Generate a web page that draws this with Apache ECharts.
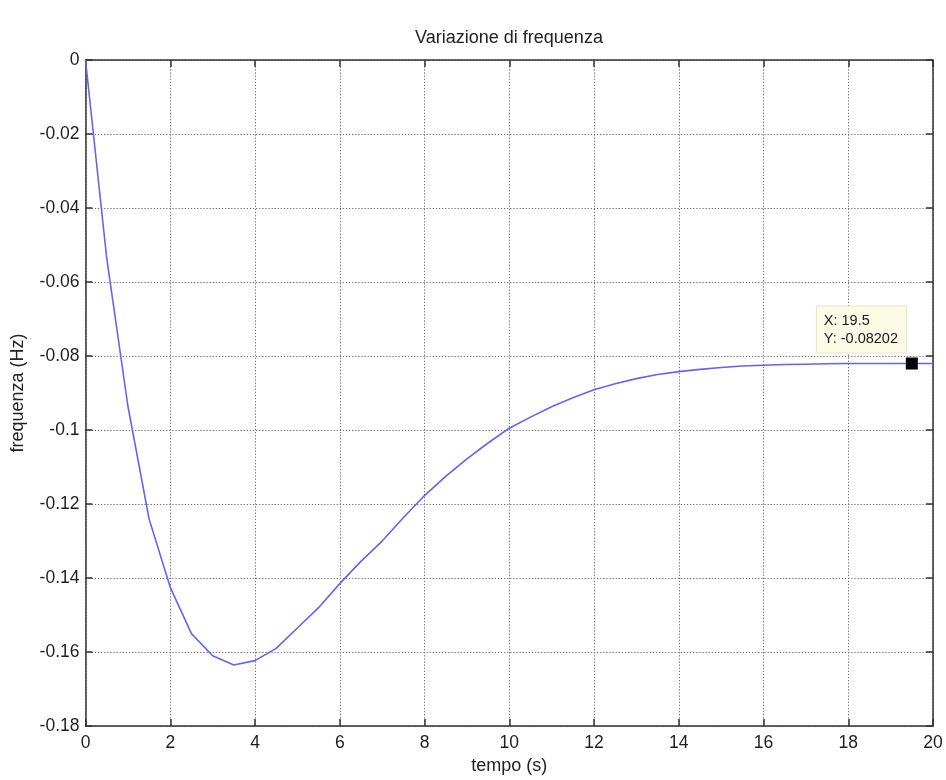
<!DOCTYPE html>
<html>
<head>
<meta charset="utf-8">
<title>Variazione di frequenza</title>
<script src="https://cdn.jsdelivr.net/npm/echarts@6/dist/echarts.min.js"></script>
<style>
  html, body { margin: 0; padding: 0; background: #ffffff; }
  #chart { width: 946px; height: 780px; }
</style>
</head>
<body>
<div id="chart"></div>
<script>
// Frequency deviation after a load step, sampled every 0.5 s
const timeS = [0, 0.5, 1, 1.5, 2, 2.5, 3, 3.5, 4, 4.5, 5, 5.5, 6, 6.5, 7, 7.5, 8, 8.5, 9, 9.5,
               10, 10.5, 11, 11.5, 12, 12.5, 13, 13.5, 14, 14.5, 15, 15.5, 16, 16.5, 17, 17.5,
               18, 18.5, 19, 19.5, 20];
const freqHz = [0, -0.0535, -0.0935, -0.124, -0.1425, -0.155, -0.161, -0.1635, -0.1623, -0.159,
                -0.1535, -0.148, -0.1415, -0.1355, -0.1300, -0.1237, -0.1177, -0.1125, -0.1078, -0.1035,
                -0.0995, -0.0965, -0.0937, -0.0913, -0.0891, -0.0875, -0.0861, -0.0850, -0.0842, -0.0836,
                -0.0831, -0.0827, -0.0825, -0.0823, -0.0822, -0.0821, -0.0820, -0.0820, -0.0820, -0.08202,
                -0.0820];

// Data cursor
const tipX = 19.5;
const tipY = -0.08202;

// Axis ranges and tick steps
const xMin = 0, xMax = 20, xStep = 2;
const yMin = -0.18, yMax = 0, yStep = 0.02;

const chartTitle = 'Variazione di frequenza';
const xName = 'tempo (s)';
const yName = 'frequenza (Hz)';

const FONT = '"Liberation Sans", Arial, Helvetica, sans-serif';
const AXIS_COLOR = '#333333';

const gridLine = { show: true, lineStyle: { color: '#727272', width: 1, type: [1.3, 1.8] } };
const boxLine = { show: true, onZero: false, lineStyle: { color: AXIS_COLOR, width: 1.5 } };
const inTicks = { show: true, inside: true, length: 7, lineStyle: { color: AXIS_COLOR, width: 1.5 } };

const fmtY = v => {
  const s = Number(v.toFixed(4)).toString();
  return s === '-0' ? '0' : s;
};

const chart = echarts.init(document.getElementById('chart'), null, { renderer: 'canvas' });

chart.setOption({
  animation: false,
  backgroundColor: '#ffffff',
  title: {
    text: chartTitle,
    left: 509,
    top: 29,
    textAlign: 'center',
    padding: 0,
    textStyle: { fontFamily: FONT, fontSize: 18, fontWeight: 'normal', color: '#222222' }
  },
  grid: { left: 85.5, right: 13, top: 60, bottom: 52, containLabel: false },
  xAxis: [
    {
      type: 'value', min: xMin, max: xMax, interval: xStep, position: 'bottom',
      name: xName, nameLocation: 'middle', nameGap: 29,
      nameTextStyle: { fontFamily: FONT, fontSize: 18, color: '#222222' },
      axisLine: boxLine, axisTick: inTicks,
      axisLabel: { margin: 8, fontFamily: FONT, fontSize: 17.5, color: '#1e1e1e' },
      splitLine: gridLine
    },
    {
      type: 'value', min: xMin, max: xMax, interval: xStep, position: 'top',
      axisLine: boxLine, axisTick: inTicks,
      axisLabel: { show: false }, splitLine: { show: false }
    }
  ],
  yAxis: [
    {
      type: 'value', min: yMin, max: yMax, interval: yStep, position: 'left',
      name: yName, nameLocation: 'middle', nameGap: 58, nameRotate: 90,
      nameTextStyle: { fontFamily: FONT, fontSize: 18, color: '#222222' },
      axisLine: boxLine, axisTick: inTicks,
      axisLabel: { margin: 6, fontFamily: FONT, fontSize: 17.5, color: '#1e1e1e', formatter: fmtY },
      splitLine: gridLine
    },
    {
      type: 'value', min: yMin, max: yMax, interval: yStep, position: 'right',
      axisLine: boxLine, axisTick: inTicks,
      axisLabel: { show: false }, splitLine: { show: false }
    }
  ],
  series: [
    {
      name: 'frequenza',
      type: 'line',
      xAxisIndex: 0, yAxisIndex: 0,
      data: timeS.map((t, i) => [t, freqHz[i]]),
      showSymbol: false,
      smooth: false,
      lineStyle: { color: '#6563f2', width: 1.6 },
      z: 3
    },
    {
      name: 'cursore',
      type: 'scatter',
      xAxisIndex: 0, yAxisIndex: 0,
      data: [[tipX, tipY]],
      symbol: 'rect',
      symbolSize: 12,
      itemStyle: { color: '#000000', opacity: 1 },
      z: 5,
      label: {
        show: true,
        position: [-89, -51],
        formatter: () => 'X: ' + tipX + '\nY: ' + tipY,
        fontFamily: FONT,
        fontSize: 14.5,
        lineHeight: 18,
        color: '#1a1a1a',
        align: 'left',
        backgroundColor: '#fbfbe6',
        borderColor: '#e6e6cc',
        borderWidth: 1,
        padding: [5, 8, 5, 7]
      }
    }
  ]
});
</script>
</body>
</html>
